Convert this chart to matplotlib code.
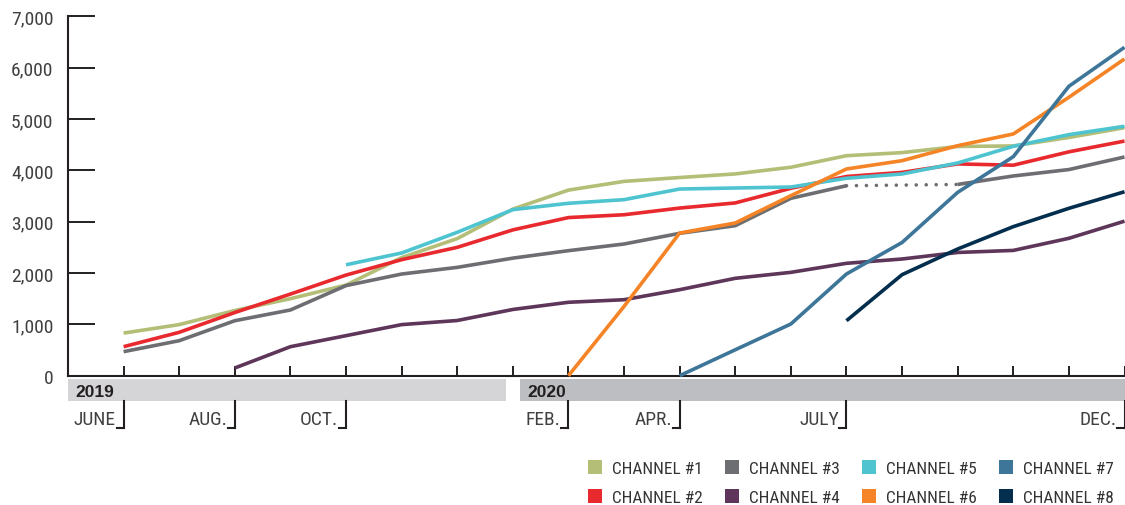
import matplotlib
matplotlib.use("Agg")
import matplotlib.pyplot as plt
import matplotlib.transforms as mtransforms
from matplotlib import font_manager
from matplotlib.patches import Rectangle
from matplotlib.lines import Line2D
import numpy as np

# ---------------- data ----------------
# month index 0 = June 2019 ... 18 = December 2020
months = list(range(19))
month_labels = {0: "JUNE", 2: "AUG.", 4: "OCT.", 8: "FEB.", 10: "APR.", 13: "JULY", 18: "DEC."}
year_labels = ["2019", "2020"]
year_split = 7  # January 2020

N = None
ch1 = [830, 995, 1270, 1500, 1765, 2300, 2670, 3245, 3615, 3785, 3860, 3930, 4060, 4285, 4345, 4465, 4475, 4640, 4830]
ch2 = [565, 845, 1230, 1590, 1960, 2260, 2500, 2840, 3080, 3135, 3265, 3365, 3650, 3880, 3960, 4125, 4100, 4360, 4570]
ch3 = [468, 682, 1071, 1280, 1755, 1980, 2110, 2290, 2435, 2565, 2773, 2922, 3455, 3700, N, 3725, 3890, 4015, 4260]
ch4 = [N, N, 150, 565, 780, 995, 1075, 1290, 1430, 1480, 1675, 1897, 2013, 2189, 2273, 2400, 2440, 2676, 3010]
ch5 = [N, N, N, N, 2160, 2390, 2793, 3234, 3358, 3429, 3636, 3656, 3675, 3845, 3929, 4143, 4468, 4695, 4858]
ch6 = [N, N, N, N, N, N, N, N, 0, 1350, 2779, 2974, 3506, 4026, 4188, 4480, 4708, 5423, 6169]
ch7 = [N, N, N, N, N, N, N, N, N, N, 0, 505, 1007, 1981, 2595, 3571, 4266, 5637, 6396]
ch8 = [N, N, N, N, N, N, N, N, N, N, N, N, N, 1071, 1968, 2468, 2903, 3260, 3583]

series_names = ["CHANNEL #1", "CHANNEL #2", "CHANNEL #3", "CHANNEL #4",
                "CHANNEL #5", "CHANNEL #6", "CHANNEL #7", "CHANNEL #8"]
series_values = [ch1, ch2, ch3, ch4, ch5, ch6, ch7, ch8]
series_colors = ["#b4be77", "#e8292e", "#6d6e71", "#5d3659",
                 "#4ec4d0", "#f58426", "#3d7698", "#032e4d"]
yticks = [0, 1000, 2000, 3000, 4000, 5000, 6000, 7000]

# ---------------- fonts ----------------
available = {f.name for f in font_manager.fontManager.ttflist}
narrow = "Liberation Sans Narrow"
if narrow not in available:
    narrow = "Roboto Condensed" if "Roboto Condensed" in available else "Liberation Sans"
regular = "Liberation Sans" if "Liberation Sans" in available else "DejaVu Sans"

W, H = 1125, 506
fig = plt.figure(figsize=(W / 100, H / 100), dpi=100)
fig.patch.set_facecolor("white")


def fx(px):
    return px / W


def fy(py):
    return 1 - py / H


ax_left, ax_right, ax_top, ax_bot = 68, 1124.5, 17.3, 376.7
ax = fig.add_axes([fx(ax_left), fy(ax_bot), fx(ax_right) - fx(ax_left), fy(ax_top) - fy(ax_bot)])
ax.set_xlim(-1, 18)
ax.set_ylim(0, 7000)
ax_h = ax_bot - ax_top


def ay(py):  # pixel y -> axes fraction
    return (ax_bot - py) / ax_h


dark = "#231f20"
for s in ["top", "right"]:
    ax.spines[s].set_visible(False)
for s in ["left", "bottom"]:
    ax.spines[s].set_color(dark)
    ax.spines[s].set_linewidth(1.5)

ax.set_yticks(yticks)
ax.set_yticklabels([f"{v:,}" for v in yticks], fontfamily=narrow, fontsize=14, color="#404041")
ax.tick_params(axis="y", direction="in", length=19.5, width=1.4, color=dark, pad=10.5)
ax.set_xticks(months)
ax.set_xticklabels([])
ax.tick_params(axis="x", direction="in", length=7, width=1.4, color=dark)

# ---------------- lines ----------------
for vals, col in zip(series_values, series_colors):
    y = np.array([np.nan if v is None else v for v in vals], dtype=float)
    x = np.array(months, dtype=float)
    ax.plot(x, y, color=col, lw=2.6, solid_capstyle="butt", solid_joinstyle="round",
            clip_on=False, zorder=3)
    # dotted connectors across internal gaps
    valid = np.where(~np.isnan(y))[0]
    for a, b in zip(valid[:-1], valid[1:]):
        if b - a > 1:
            ax.plot([x[a], x[b]], [y[a], y[b]], color=col, lw=2.6,
                    linestyle=(0, (0.01, 2.75)), dash_capstyle="round", zorder=3)

# ---------------- year bands ----------------
blend = mtransforms.blended_transform_factory(ax.transData, ax.transAxes)
band_y0, band_y1 = ay(402), ay(380)
gap = 0.12
bands = [(-1, year_split - gap, "#d5d5d7"), (year_split + gap, 18, "#bdbec1")]
for (x0, x1, c), lab in zip(bands, year_labels):
    ax.add_patch(Rectangle((x0, band_y0), x1 - x0, band_y1 - band_y0, transform=blend,
                           facecolor=c, edgecolor="none", clip_on=False, zorder=1))
    ax.annotate(lab, xy=(x0, ay(396.7)), xycoords=blend, xytext=(5.5, 0),
                textcoords="offset points", ha="left", va="baseline",
                fontfamily=regular, fontweight="bold", fontsize=12.5, color=dark,
                annotation_clip=False)

# ---------------- month brackets ----------------
foot = 7 / 55.6
for m, lab in month_labels.items():
    ax.add_line(Line2D([m, m], [ay(402), ay(429)], transform=blend, color=dark,
                       lw=1.5, clip_on=False))
    ax.add_line(Line2D([m - foot, m], [ay(429), ay(429)], transform=blend, color=dark,
                       lw=1.5, clip_on=False))
    ax.annotate(lab, xy=(m, ay(425)), xycoords=blend, xytext=(-5.5, 0),
                textcoords="offset points", ha="right", va="baseline",
                fontfamily=narrow, fontsize=14, color="#404041", annotation_clip=False)

# ---------------- legend ----------------
col_x = [588, 725, 862, 999]
row_y = [467.5, 496.5]
sq = 14
for i, (name, col) in enumerate(zip(series_names, series_colors)):
    c, r = i // 2, i % 2
    sx, sy = col_x[c], row_y[r]
    fig.add_artist(Rectangle((fx(sx), fy(sy + sq / 2)), fx(sq), sq / H,
                             transform=fig.transFigure, facecolor=col, edgecolor="none"))
    fig.text(fx(sx + 24), fy(sy + 6.5), name, ha="left", va="baseline",
             fontfamily=narrow, fontsize=12.4, color="#333333")

fig.savefig("out.png", dpi=100, facecolor="white")
